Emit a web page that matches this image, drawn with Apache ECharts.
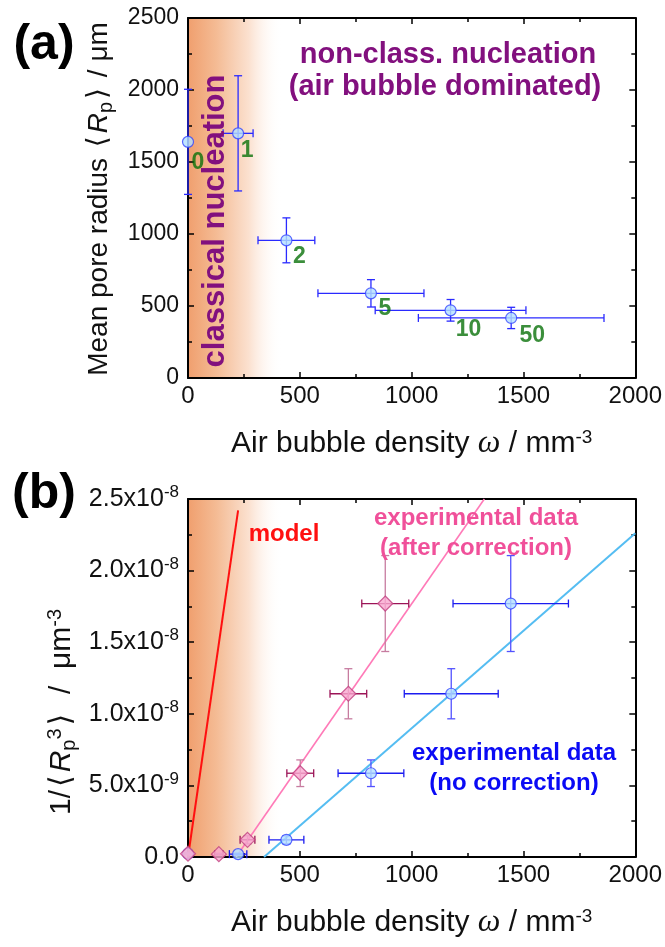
<!DOCTYPE html>
<html>
<head>
<meta charset="utf-8">
<script src="https://cdn.jsdelivr.net/npm/echarts@6/dist/echarts.min.js"></script>
<style>
  html, body { margin: 0; padding: 0; background: #fff; }
  #chart { width: 665px; height: 947px; }
</style>
</head>
<body>
<div id="chart"></div>
<script>
// ---- panel (a): mean pore radius vs air bubble density ----
const pointTags = ['0', '1', '2', '5', '10', '50'];
const omegaA = [0, 224, 440, 818, 1174, 1445];
const omegaErrA = [0, 67, 127, 237, 337, 415];
const radiusA = [1640, 1699, 956, 588, 470, 417];
const radiusErrA = [365, 400, 156, 95, 75, 74];

// ---- panel (b): 1/<Rp^3> vs air bubble density ----
const omegaRaw = [0, 224, 440, 818, 1177, 1443];
const omegaRawErr = [0, 39, 78, 147, 210, 258];
const omegaCorr = [0, 138, 266, 502, 717, 882];
const omegaCorrErr = [0, 18, 33, 60, 82, 105];
const invR3 = [2.3e-10, 2.0e-10, 1.2e-9, 5.85e-9, 1.14e-8, 1.77e-8];
const invR3Err = [0.5e-10, 0.6e-10, 0.28e-9, 0.93e-9, 1.75e-9, 3.35e-9];

const modelX = [0, 224];
const modelY = [0, 2.42e-8];
const fitCorrX = [215, 1325];
const fitCorrY = [0, 2.5e-8];
const fitRawX = [340, 2000];
const fitRawY = [0, 2.26e-8];

// classical nucleation band (x range)
const bandX = [0, 420];

// ticks
const xTickLabels = ['0', '500', '1000', '1500', '2000'];
const yTickLabelsA = ['0', '500', '1000', '1500', '2000', '2500'];
const yTickMantB = ['0.0', '5.0x10', '1.0x10', '1.5x10', '2.0x10', '2.5x10'];
const yTickExpB = ['', '-9', '-8', '-8', '-8', '-8'];

const FONT = 'Liberation Sans, Arial, sans-serif';
const tagOffset = [[10, 21], [9, 17], [13, 16], [14, 15], [18, 19], [21, 18]];

const chart = echarts.init(document.getElementById('chart'));

function xAxisFor(grid, pos, main) {
  return {
    type: 'value', gridIndex: grid, position: pos, min: 0, max: 2000, interval: 500, z: 3,
    axisLine: { show: true, onZero: false, lineStyle: { color: '#000', width: 2 } },
    axisTick: { show: true, inside: true, length: 6, lineStyle: { color: '#000', width: 1.5 } },
    minorTick: { show: true, splitNumber: 2, length: 4, lineStyle: { color: '#000', width: 1.5 } },
    splitLine: { show: false },
    axisLabel: {
      show: main, fontSize: 24, color: '#111', fontFamily: FONT, margin: 6,
      formatter: (v, i) => xTickLabels[i]
    },
    name: main ? 'Air bubble density {w|ω} / mm{u|-3}' : '',
    nameLocation: 'middle', nameGap: 50,
    nameTextStyle: {
      fontSize: 30, color: '#111', fontFamily: FONT, lineHeight: 32,
      rich: {
        w: { fontFamily: 'Liberation Serif, serif', fontStyle: 'italic', fontSize: 32, color: '#111', lineHeight: 32 },
        u: { fontSize: 19, fontFamily: FONT, color: '#111', lineHeight: 15, verticalAlign: 'top' }
      }
    }
  };
}

function yAxisFor(grid, pos, main, max, step, fmt, size) {
  return {
    type: 'value', gridIndex: grid, position: pos, min: 0, max: max, interval: step, z: 3,
    axisLine: { show: true, onZero: false, lineStyle: { color: '#000', width: 2 } },
    axisTick: { show: true, inside: true, length: 6, lineStyle: { color: '#000', width: 1.5 } },
    minorTick: { show: true, splitNumber: 2, length: 4, lineStyle: { color: '#000', width: 1.5 } },
    splitLine: { show: false },
    axisLabel: {
      show: main, fontSize: size, color: '#111', fontFamily: FONT, margin: 9,
      formatter: fmt,
      rich: {
        m: { fontSize: size, fontFamily: FONT, color: '#111', lineHeight: 30 },
        e: { fontSize: 17, fontFamily: FONT, color: '#111', lineHeight: 15, verticalAlign: 'top' }
      }
    }
  };
}

function errorBars(hColor, vColor) {
  return function (params, api) {
    const x = api.value(0), y = api.value(1), ex = api.value(2), ey = api.value(3);
    const cap = 4;
    const kids = [];
    if (ex > 0) {
      const l = api.coord([x - ex, y]), r = api.coord([x + ex, y]);
      const st = { stroke: hColor, lineWidth: 1.3 };
      kids.push({ type: 'line', shape: { x1: l[0], y1: l[1], x2: r[0], y2: r[1] }, style: st });
      kids.push({ type: 'line', shape: { x1: l[0], y1: l[1] - cap, x2: l[0], y2: l[1] + cap }, style: st });
      kids.push({ type: 'line', shape: { x1: r[0], y1: r[1] - cap, x2: r[0], y2: r[1] + cap }, style: st });
    }
    if (ey > 0) {
      const t = api.coord([x, y + ey]), b = api.coord([x, y - ey]);
      const st = { stroke: vColor, lineWidth: 1.3 };
      kids.push({ type: 'line', shape: { x1: t[0], y1: t[1], x2: b[0], y2: b[1] }, style: st });
      kids.push({ type: 'line', shape: { x1: t[0] - cap, y1: t[1], x2: t[0] + cap, y2: t[1] }, style: st });
      kids.push({ type: 'line', shape: { x1: b[0] - cap, y1: b[1], x2: b[0] + cap, y2: b[1] }, style: st });
    }
    return { type: 'group', children: kids };
  };
}

const bandFill = new echarts.graphic.LinearGradient(0, 0, 1, 0, [
  { offset: 0, color: '#f09f6e' },
  { offset: 0.3, color: '#f4bb94' },
  { offset: 0.65, color: '#fbe1d0' },
  { offset: 1, color: 'rgba(255,255,255,0)' }
]);

function bandRender(params, api) {
  const cs = params.coordSys;
  const x0 = api.coord([api.value(0), api.value(2)])[0];
  const x1 = api.coord([api.value(1), api.value(2)])[0];
  return { type: 'rect', shape: { x: x0, y: cs.y, width: x1 - x0, height: cs.height }, style: { fill: bandFill } };
}

const zip = (xs, ys, exs, eys) => xs.map((x, i) => [x, ys[i], exs[i], eys[i]]);
const pts = (xs, ys) => xs.map((x, i) => [x, ys[i]]);

function textEl(x, y, text, size, color, extra) {
  return Object.assign({
    type: 'text', x: x, y: y, z: 20,
    style: {
      text: text, fontSize: size, fontWeight: 'bold', fontFamily: FONT, fill: color,
      textAlign: 'center', textVerticalAlign: 'middle'
    }
  }, extra || {});
}

function titleRich(size) {
  return {
    i: { fontSize: size, fontFamily: FONT, fontStyle: 'italic', fill: '#111', lineHeight: 34 },
    b: { fontSize: size, fontFamily: 'DejaVu Sans, sans-serif', fill: '#111', lineHeight: 34, padding: [0, 3, 0, 3] },
    s: { fontSize: 20, fontFamily: FONT, fill: '#111', lineHeight: 16, verticalAlign: 'bottom' },
    u: { fontSize: 20, fontFamily: FONT, fill: '#111', lineHeight: 16, verticalAlign: 'top' }
  };
}

const option = {
  animation: false,
  backgroundColor: '#fff',
  grid: [
    { left: 188, top: 18, width: 449, height: 360 },
    { left: 188, top: 499, width: 449, height: 358 }
  ],
  xAxis: [
    xAxisFor(0, 'bottom', true), xAxisFor(0, 'top', false),
    xAxisFor(1, 'bottom', true), xAxisFor(1, 'top', false)
  ],
  yAxis: [
    yAxisFor(0, 'left', true, 2500, 500, (v, i) => yTickLabelsA[i], 23),
    yAxisFor(0, 'right', false, 2500, 500, null, 23),
    yAxisFor(1, 'left', true, 2.5e-8, 5e-9,
      (v, i) => '{m|' + yTickMantB[i] + '}' + (yTickExpB[i] ? '{e|' + yTickExpB[i] + '}' : ''), 25),
    yAxisFor(1, 'right', false, 2.5e-8, 5e-9, null, 25)
  ],
  series: [
    // classical nucleation shading
    { type: 'custom', xAxisIndex: 0, yAxisIndex: 0, z: 1, silent: true, renderItem: bandRender,
      encode: { x: [0, 1], y: 2 }, data: [[bandX[0], bandX[1], 0]] },
    { type: 'custom', xAxisIndex: 2, yAxisIndex: 2, z: 1, silent: true, renderItem: bandRender,
      encode: { x: [0, 1], y: 2 }, data: [[bandX[0], bandX[1], 0]] },

    // (a) error bars + points
    { type: 'custom', xAxisIndex: 0, yAxisIndex: 0, z: 4, silent: true,
      renderItem: errorBars('#2a2aff', '#2a2aff'), encode: { x: 0, y: 1 },
      data: zip(omegaA, radiusA, omegaErrA, radiusErrA) },
    { type: 'scatter', xAxisIndex: 0, yAxisIndex: 0, z: 5, symbol: 'circle', symbolSize: 11,
      itemStyle: { color: '#b3e0ff', borderColor: '#3344ff', borderWidth: 1.2 },
      label: {
        show: true, position: 'inside', fontSize: 23, fontWeight: 'bold', fontFamily: FONT, color: '#0a720a',
        formatter: p => pointTags[p.dataIndex]
      },
      data: pts(omegaA, radiusA).map((v, i) => ({ value: v, label: { offset: tagOffset[i] } })) },

    // (b) lines
    { type: 'line', xAxisIndex: 2, yAxisIndex: 2, z: 4, showSymbol: false, silent: true,
      lineStyle: { color: '#ff1010', width: 2 }, data: pts(modelX, modelY) },
    { type: 'line', xAxisIndex: 2, yAxisIndex: 2, z: 4, showSymbol: false, silent: true,
      lineStyle: { color: '#ff7ab8', width: 1.6 }, data: pts(fitCorrX, fitCorrY) },
    { type: 'line', xAxisIndex: 2, yAxisIndex: 2, z: 4, showSymbol: false, silent: true,
      lineStyle: { color: '#55bdf2', width: 2 }, data: pts(fitRawX, fitRawY) },

    // (b) no correction
    { type: 'custom', xAxisIndex: 2, yAxisIndex: 2, z: 5, silent: true,
      renderItem: errorBars('#1c1cf0', '#5252ff'), encode: { x: 0, y: 1 },
      data: zip(omegaRaw, invR3, omegaRawErr, invR3Err) },
    { type: 'scatter', xAxisIndex: 2, yAxisIndex: 2, z: 6, symbol: 'circle', symbolSize: 11,
      itemStyle: { color: '#b3e0ff', borderColor: '#3344ff', borderWidth: 1.2 },
      data: pts(omegaRaw, invR3) },

    // (b) after correction
    { type: 'custom', xAxisIndex: 2, yAxisIndex: 2, z: 5, silent: true,
      renderItem: errorBars('#9c1457', '#c77ca0'), encode: { x: 0, y: 1 },
      data: zip(omegaCorr, invR3, omegaCorrErr, invR3Err) },
    { type: 'scatter', xAxisIndex: 2, yAxisIndex: 2, z: 6, symbol: 'diamond', symbolSize: 15,
      itemStyle: { color: '#f9a7cf', borderColor: '#c04080', borderWidth: 1.2 },
      data: pts(omegaCorr, invR3) }
  ],
  graphic: [
    textEl(44, 45, '(a)', 50, '#000'),
    textEl(44, 494, '(b)', 50, '#000'),
    textEl(448, 55, 'non-class. nucleation', 29, '#82107e'),
    textEl(445, 87, '(air bubble dominated)', 29, '#82107e'),
    textEl(215, 221, 'classical nucleation', 31, '#82107e', { rotation: Math.PI / 2 }),
    textEl(284, 534, 'model', 24, '#ff1010'),
    textEl(476, 518, 'experimental data', 24, '#f0509a'),
    textEl(476, 548, '(after correction)', 24, '#f0509a'),
    textEl(514, 753, 'experimental data', 24, '#0a0af5'),
    textEl(514, 783, '(no correction)', 24, '#0a0af5'),
    {
      type: 'text', x: 99, y: 199, rotation: Math.PI / 2, z: 20,
      style: {
        text: 'Mean pore radius {b|⟨}{i|R}{s|p}{b|⟩} / μm', fontSize: 28, fontFamily: FONT, fill: '#111',
        lineHeight: 34, textAlign: 'center', textVerticalAlign: 'middle', rich: titleRich(28)
      }
    },
    {
      type: 'text', x: 62, y: 712, rotation: Math.PI / 2, z: 20,
      style: {
        text: '1/{b|⟨}{i|R}{s|p}{u|3}{b|⟩}  /  μm{u|-3}', fontSize: 30, fontFamily: FONT, fill: '#111',
        lineHeight: 34, textAlign: 'center', textVerticalAlign: 'middle', rich: titleRich(30)
      }
    }
  ]
};

chart.setOption(option);
</script>
</body>
</html>
